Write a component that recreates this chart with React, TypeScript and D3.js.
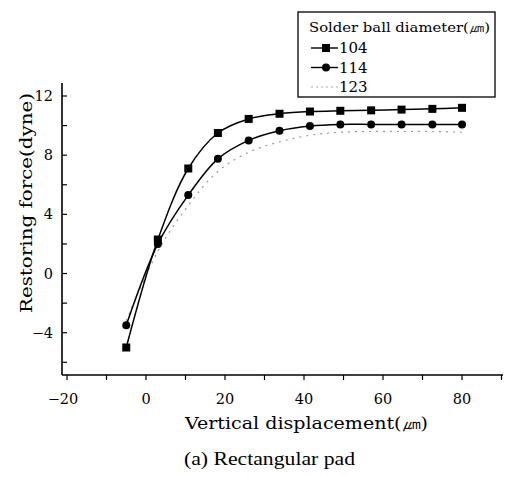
import React, { useEffect, useRef } from 'react';
import * as d3 from 'd3';

// displacement (um) and restoring force (dyne)
const disp = [-5, 3, 10.7, 18.2, 26, 33.8, 41.5, 49.2, 57, 64.7, 72.5, 80];
const force104 = [-5.0, 2.3, 7.1, 9.5, 10.45, 10.8, 10.95, 11.0, 11.03, 11.08, 11.13, 11.2];
const force114 = [-3.5, 2.0, 5.3, 7.75, 9.0, 9.65, 9.97, 10.08, 10.08, 10.08, 10.07, 10.07];
const force123 = [-3.2, 1.5, 4.6, 6.9, 8.2, 8.9, 9.35, 9.55, 9.6, 9.6, 9.6, 9.55];
const legendLabels = ['104', '114', '123'];
const xTicks = [-20, 0, 20, 40, 60, 80];
const yTicks = [-4, 0, 4, 8, 12];

const FONT = '"DejaVu Serif", "Liberation Serif", serif';
const FONT2 = '"Liberation Serif", "DejaVu Serif", serif';

const App = () => {
  const svgRef = useRef<SVGSVGElement>(null);

  useEffect(() => {
    const svg = d3.select(svgRef.current);
    svg.selectAll('*').remove();

    const x = d3.scaleLinear().domain([-20, 80]).range([67, 462]);
    const y = d3.scaleLinear().domain([-4, 12]).range([332.7, 96]);
    const xLeft = 62, xRight = 503, yTop = 83, yBottom = 375;

    const g = svg.append('g');

    // y axis
    const yAxis = g.append('g').attr('transform', `translate(${xLeft},0)`);
    yAxis.append('line').attr('x1', 0).attr('x2', 0).attr('y1', yTop).attr('y2', yBottom)
      .attr('stroke', '#000').attr('stroke-width', 1.6);
    yAxis.selectAll('.minor').data(d3.range(-6, 13, 2)).enter().append('line')
      .attr('x1', 0).attr('x2', 5).attr('y1', d => y(d)).attr('y2', d => y(d))
      .attr('stroke', '#000').attr('stroke-width', 1.2);
    yAxis.selectAll('.lbl').data(yTicks).enter().append('text')
      .attr('x', -9).attr('y', d => y(d)).attr('dy', '0.35em')
      .attr('text-anchor', 'end').style('font-family', FONT).style('font-size', '14.5px')
      .text(d => (d < 0 ? '\u2212' + Math.abs(d) : String(d)));

    // x axis
    const xAxis = g.append('g').attr('transform', `translate(0,${yBottom})`);
    xAxis.append('line').attr('x1', xLeft).attr('x2', xRight).attr('y1', 0).attr('y2', 0)
      .attr('stroke', '#000').attr('stroke-width', 1.6);
    xAxis.selectAll('.minor').data(d3.range(-20, 91, 10)).enter().append('line')
      .attr('x1', d => x(d)).attr('x2', d => x(d)).attr('y1', 0).attr('y2', 5)
      .attr('stroke', '#000').attr('stroke-width', 1.2);
    xAxis.selectAll('.lbl').data(xTicks).enter().append('text')
      .attr('x', d => x(d) + (d < 0 ? -4 : 0)).attr('y', 29)
      .attr('text-anchor', 'middle').style('font-family', FONT).style('font-size', '14.5px')
      .text(d => (d < 0 ? '\u2212' + Math.abs(d) : String(d)));

    // titles
    g.append('text').attr('x', 185).attr('y', 429)
      .attr('textLength', 243).attr('lengthAdjust', 'spacingAndGlyphs')
      .style('font-family', FONT).style('font-size', '17px')
      .text('Vertical displacement(\u339B)');
    g.append('text').attr('x', 184).attr('y', 465)
      .attr('textLength', 171).attr('lengthAdjust', 'spacingAndGlyphs')
      .style('font-family', FONT2).style('font-size', '18px')
      .text('(a) Rectangular pad');
    g.append('text').attr('transform', 'translate(32,313) rotate(-90)')
      .attr('textLength', 220).attr('lengthAdjust', 'spacingAndGlyphs')
      .style('font-family', FONT).style('font-size', '17px')
      .text('Restoring force(dyne)');

    const line = d3.line<number>()
      .x((d, i) => x(disp[i]))
      .y(d => y(d))
      .curve(d3.curveCatmullRom.alpha(0.5));

    // series 123: faint dotted
    g.append('path').datum(force123).attr('d', line).attr('fill', 'none')
      .attr('stroke', '#999').attr('stroke-width', 1.2).attr('stroke-dasharray', '2,5');

    // series 114: circles
    g.append('path').datum(force114).attr('d', line).attr('fill', 'none')
      .attr('stroke', '#000').attr('stroke-width', 1.5);
    g.selectAll('.c114').data(force114).enter().append('circle')
      .attr('cx', (d, i) => x(disp[i])).attr('cy', d => y(d)).attr('r', 4).attr('fill', '#000');

    // series 104: squares
    g.append('path').datum(force104).attr('d', line).attr('fill', 'none')
      .attr('stroke', '#000').attr('stroke-width', 1.5);
    g.selectAll('.s104').data(force104).enter().append('rect')
      .attr('x', (d, i) => x(disp[i]) - 4).attr('y', d => y(d) - 4)
      .attr('width', 8).attr('height', 8).attr('fill', '#000');

    // legend
    const lg = g.append('g');
    lg.append('rect').attr('x', 298).attr('y', 12).attr('width', 197).attr('height', 85)
      .attr('fill', '#fff').attr('stroke', '#000').attr('stroke-width', 1.3);
    lg.append('text').attr('x', 309).attr('y', 32).style('font-family', FONT).style('font-size', '13.5px')
      .attr('textLength', 181).attr('lengthAdjust', 'spacingAndGlyphs')
      .text('Solder ball diameter(\u339B)');
    legendLabels.forEach((lab, i) => {
      const ly = 48 + i * 19.5;
      if (i < 2) {
        lg.append('line').attr('x1', 311).attr('x2', 338).attr('y1', ly).attr('y2', ly)
          .attr('stroke', '#000').attr('stroke-width', 1.4);
        if (i === 0) {
          lg.append('rect').attr('x', 322).attr('y', ly - 4).attr('width', 8).attr('height', 8).attr('fill', '#000');
        } else {
          lg.append('circle').attr('cx', 326).attr('cy', ly).attr('r', 4).attr('fill', '#000');
        }
      } else {
        lg.append('line').attr('x1', 311).attr('x2', 338).attr('y1', ly).attr('y2', ly)
          .attr('stroke', '#aaa').attr('stroke-width', 1).attr('stroke-dasharray', '2,3');
      }
      lg.append('text').attr('x', 339).attr('y', ly).attr('dy', '0.35em')
        .style('font-family', FONT).style('font-size', '15px').text(lab);
    });
  }, []);

  return (
    <svg ref={svgRef} width={509} height={477}
      style={{ position: 'absolute', left: 0, top: 0, background: '#fff' }} />
  );
};

export default App;
